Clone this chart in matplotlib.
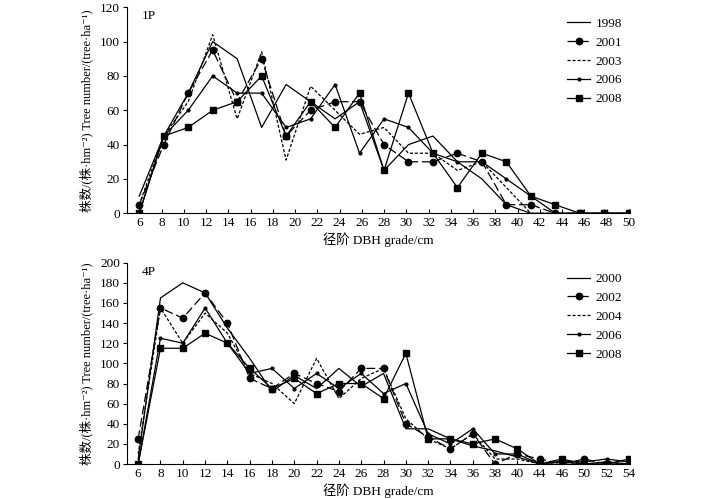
import numpy as np
import matplotlib
matplotlib.use("Agg")
import matplotlib.pyplot as plt

plt.rcParams['font.family'] = ['Liberation Serif', 'Noto Sans CJK SC', 'DejaVu Sans']

# ---------------- data ----------------
top_ticklabels = [str(v) for v in range(6, 51, 2)]
top_years = ["1998", "2001", "2003", "2006", "2008"]
top_1998 = [10, 45, 70, 100, 90, 50, 75, 65, 55, 65, 25, 40, 45, 30, 20, 5, 0, 0, 0, 0, 0]
top_2001 = [5, 40, 70, 95, 65, 90, 45, 60, 65, 65, 40, 30, 30, 35, 30, 5, 5, 0, 0, 0, 0]
top_2003 = [5, 45, 65, 104, 55, 94, 31, 74, 60, 46, 50, 35, 35, 25, 30, 15, 0, 0, 0, 0, 0]
top_2006 = [0, 45, 60, 80, 70, 70, 50, 55, 75, 35, 55, 50, 35, 30, 30, 20, 10, 0, 0, 0, 0]
top_2008 = [0, 45, 50, 60, 65, 80, 45, 65, 50, 70, 25, 70, 35, 15, 35, 30, 10, 5, 0, 0, 0]

bot_ticklabels = ["6", "8", "10", "12", "14", "16", "18", "20", "22", "24", "26", "28",
                  "30", "32", "34", "36", "38", "40", "44", "46", "50", "52", "54"]
bot_years = ["2000", "2002", "2004", "2006", "2008"]
bot_2000 = [5, 165, 180, 170, 135, 105, 72, 88, 75, 95, 77, 90, 35, 35, 25, 18, 13, 7, 0, 2, 0, 2, 0]
bot_2002 = [25, 155, 145, 170, 140, 85, 75, 90, 80, 72, 95, 95, 40, 27, 15, 30, 0, 10, 5, 0, 5, 0, 0]
bot_2004 = [10, 155, 120, 150, 130, 90, 80, 60, 105, 65, 85, 95, 45, 25, 15, 30, 5, 5, 0, 2, 0, 2, 0]
bot_2006 = [0, 125, 120, 155, 120, 90, 95, 75, 90, 75, 90, 70, 80, 30, 20, 35, 10, 10, 0, 3, 2, 5, 2]
bot_2008 = [0, 115, 115, 130, 120, 95, 75, 85, 70, 80, 80, 65, 110, 25, 25, 20, 25, 15, 0, 5, 0, 0, 5]

ylabel = "株数/(株·hm⁻²) Tree number/(tree·ha⁻¹)"
xlabel = "径阶 DBH grade/cm"

styles = [
    dict(color='black', lw=0.9, ls='-', marker=None),
    dict(color='black', lw=0.9, ls=(0, (7, 3)), marker='o', ms=4.6),
    dict(color='black', lw=0.9, ls=(0, (2.5, 1.5)), marker=None),
    dict(color='black', lw=0.9, ls='-', marker='o', ms=2.0),
    dict(color='black', lw=0.9, ls='-', marker='s', ms=4.6),
]

fig = plt.figure(figsize=(7.16, 4.99), dpi=100)
ax1 = fig.add_axes([0.1774, 0.5725, 0.7025, 0.413])
ax2 = fig.add_axes([0.1774, 0.0701, 0.7025, 0.4034])

FS = 9.5

def style_axes(ax):
    ax.spines['top'].set_visible(False)
    ax.spines['right'].set_visible(False)
    for s in ['left', 'bottom']:
        ax.spines[s].set_linewidth(0.8)
    ax.tick_params(axis='y', direction='out', length=3, width=0.8, labelsize=FS, pad=2)
    ax.tick_params(axis='x', direction='in', length=3, width=0.8, labelsize=FS, pad=3)

# top
top_series = [top_1998, top_2001, top_2003, top_2006, top_2008]
xt = np.arange(len(top_1998))
for vals, st, yr in zip(top_series, styles, top_years):
    ax1.plot(xt, vals, label=yr, mfc='black', mec='black', **st)
ax1.set_xlim(-0.5, xt[-1] + 0.05)
ax1.set_ylim(0, 120)
ax1.set_yticks(np.arange(0, 121, 20))
ax1.set_xticks(np.linspace(0, xt[-1], len(top_ticklabels)))
ax1.set_xticklabels(top_ticklabels)
style_axes(ax1)
ax1.set_ylabel(ylabel, fontsize=9, labelpad=5)
ax1.set_xlabel(xlabel, fontsize=FS, labelpad=2)
ax1.text(0.03, 0.985, "1P", transform=ax1.transAxes, fontsize=FS, va='top', ha='left')
ax1.legend(loc='upper left', bbox_to_anchor=(0.865, 0.975), frameon=False, fontsize=FS,
           handlelength=1.75, handletextpad=0.4, labelspacing=0.5, borderaxespad=0)

# bottom
bot_series = [bot_2000, bot_2002, bot_2004, bot_2006, bot_2008]
xb = np.arange(len(bot_2000))
for vals, st, yr in zip(bot_series, styles, bot_years):
    ax2.plot(xb, vals, label=yr, mfc='black', mec='black', **st)
ax2.set_xlim(-0.5, xb[-1] + 0.05)
ax2.set_ylim(0, 200)
ax2.set_yticks(np.arange(0, 201, 20))
ax2.set_xticks(xb)
ax2.set_xticklabels(bot_ticklabels)
style_axes(ax2)
ax2.set_ylabel(ylabel, fontsize=9, labelpad=5)
ax2.set_xlabel(xlabel, fontsize=FS, labelpad=2)
ax2.text(0.03, 0.985, "4P", transform=ax2.transAxes, fontsize=FS, va='top', ha='left')
ax2.legend(loc='upper left', bbox_to_anchor=(0.865, 0.975), frameon=False, fontsize=FS,
           handlelength=1.75, handletextpad=0.4, labelspacing=0.5, borderaxespad=0)

fig.savefig("out.png", dpi=100)
